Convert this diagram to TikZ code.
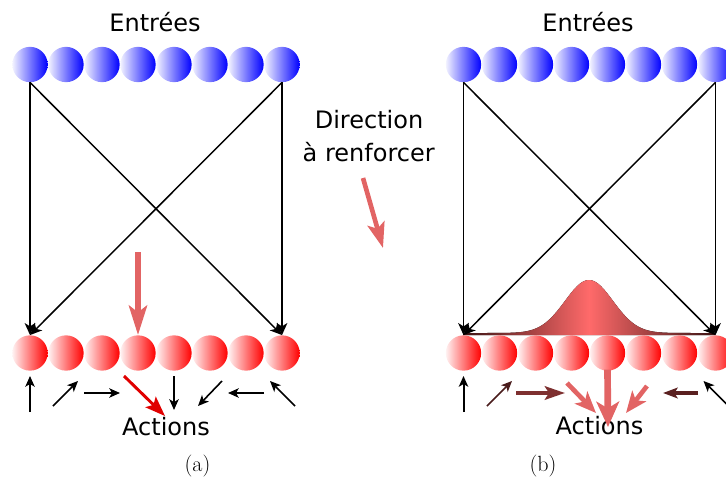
\documentclass[tikz,border=0pt]{standalone}
\usepackage{fontspec}
\newfontfamily\dv{DejaVu Sans}
\usetikzlibrary{arrows.meta}
\definecolor{lred}{HTML}{E26464}
\definecolor{bred}{HTML}{E00000}
\definecolor{brA}{HTML}{4A1C1C}
\definecolor{brB}{HTML}{7E3030}
\definecolor{brC}{HTML}{5A2020}
\definecolor{gdark}{HTML}{3C1414}
\definecolor{glight}{HTML}{FF6A6A}
\begin{document}
\begin{tikzpicture}[x=0.75pt,y=-0.75pt,
  bcirc/.style={circle,minimum size=26.5pt,inner sep=0pt,left color=blue!5,right color=blue},
  rcirc/.style={circle,minimum size=26.5pt,inner sep=0pt,left color=red!5,right color=red},
  conn/.style={black,line width=1.1pt,-{Stealth[length=9pt,width=8pt,inset=2.5pt]}},
  sblk/.style={black,line width=1.5pt,-{Stealth[length=8pt,width=7pt,inset=2pt]}},
  sdiag/.style={line width=1.2pt,-{Stealth[length=8pt,width=7pt,inset=2pt]}},
  lbl/.style={font=\dv\fontsize{18}{22}\selectfont,anchor=base,inner sep=0pt},
  captext/.style={font=\fontsize{16.5}{19}\selectfont,anchor=base,inner sep=0pt}]
\useasboundingbox (0,0) rectangle (726,479);

% ---------- panel (a) ----------
\foreach \i in {1,...,8} {
  \node[bcirc] (ta\i) at ({30+36*(\i-1)},64.5) {};
  \node[rcirc] (ba\i) at ({30+36*(\i-1)},353) {};
}
\draw[conn] (ta1.south) -- (ba1.north);
\draw[conn] (ta1.south) -- (ba8.north);
\draw[conn] (ta8.south) -- (ba8.north);
\draw[conn] (ta8.south) -- (ba1.north);

\node[lbl] (ina) at (155,31.7) {Entrées};
\node[lbl] (acta) at (166,435) {Actions};
\node[captext] (capa) at (197.5,471) {(a)};

\coordinate (va1) at (138,252);
\draw[lred,line width=4.5pt,-{Stealth[length=22pt,width=13.5pt,inset=5pt]}] (va1) -- (ba4.north);

\coordinate (a1s) at (30,412);   \coordinate (a1e) at (30,376);
\coordinate (a2s) at (53,406);   \coordinate (a2e) at (78,381);
\coordinate (a3s) at (84,393);   \coordinate (a3e) at (120,393);
\coordinate (a4s) at (124,376);  \coordinate (a4e) at (165,416);
\coordinate (a5s) at (174,376);  \coordinate (a5e) at (174,410);
\coordinate (a6s) at (222,381);  \coordinate (a6e) at (198,406);
\coordinate (a7s) at (264,393);  \coordinate (a7e) at (228,393);
\coordinate (a8s) at (295,406);  \coordinate (a8e) at (270,381);
\draw[sblk] (a1s) -- (a1e);
\draw[sdiag,black] (a2s) -- (a2e);
\draw[sblk,line width=2pt] (a3s) -- (a3e);
\draw[bred,line width=2.2pt,-{Stealth[length=15pt,width=11pt,inset=3pt]}] (a4s) -- (a4e);
\draw[sblk] (a5s) -- (a5e);
\draw[sdiag,black] (a6s) -- (a6e);
\draw[sblk,line width=2pt] (a7s) -- (a7e);
\draw[sdiag,black] (a8s) -- (a8e);

% ---------- middle ----------
\node[lbl] (dir1) at (369,128.3) {Direction};
\node[lbl] (dir2) at (368.7,161) {à renforcer};
\coordinate (ms) at (363,178);
\coordinate (me) at (383,248);
\draw[lred,line width=3.5pt,-{Stealth[length=19pt,width=13pt,inset=4pt]}] (ms) -- (me);

% ---------- panel (b) ----------
\fill[left color=gdark,right color=gdark,middle color=glight]
  plot[domain=463:715,samples=120] (\x,{333-53*exp(-((\x-589)/24)^2/2)})
  -- (715,335) -- (463,335) -- cycle;
\foreach \i in {1,...,8} {
  \node[bcirc] (tb\i) at ({463.5+36*(\i-1)},64.5) {};
  \node[rcirc] (bb\i) at ({463.5+36*(\i-1)},353) {};
}
\draw[conn] (tb1.south) -- (bb1.north);
\draw[conn] (tb1.south) -- (bb8.north);
\draw[conn] (tb8.south) -- (bb8.north);
\draw[conn] (tb8.south) -- (bb1.north);

\node[lbl] (inb) at (588,31.7) {Entrées};
\node[lbl] (actb) at (599.5,434.5) {Actions};
\node[captext] (capb) at (543,471) {(b)};

\coordinate (b1s) at (463.5,412); \coordinate (b1e) at (463.5,376);
\coordinate (b2s) at (487,406);   \coordinate (b2e) at (512,381);
\coordinate (b3s) at (516,393);   \coordinate (b3e) at (565,393);
\coordinate (b4s) at (567,383);   \coordinate (b4e) at (596,413);
\coordinate (b5e) at (608,427);
\coordinate (b6s) at (647,386);   \coordinate (b6e) at (626,413);
\coordinate (b7s) at (698,393);   \coordinate (b7e) at (663,393);
\coordinate (b8s) at (728.5,406); \coordinate (b8e) at (703.5,381);
\draw[sblk] (b1s) -- (b1e);
\draw[sdiag,brA] (b2s) -- (b2e);
\draw[brB,line width=3pt,-{Stealth[length=15pt,width=10pt,inset=3pt]}] (b3s) -- (b3e);
\draw[lred,line width=3.5pt,-{Stealth[length=16pt,width=13pt,inset=4pt]}] (b4s) -- (b4e);
\draw[lred,line width=5pt,-{Stealth[length=19pt,width=17pt,inset=5pt]}] ([yshift=1pt]bb5.south) -- (b5e);
\draw[lred,line width=3.5pt,-{Stealth[length=16pt,width=13pt,inset=4pt]}] (b6s) -- (b6e);
\draw[brC,line width=2.7pt,-{Stealth[length=11pt,width=8pt,inset=2.5pt]}] (b7s) -- (b7e);
\draw[sdiag,black] (b8s) -- (b8e);
\end{tikzpicture}
\end{document}
